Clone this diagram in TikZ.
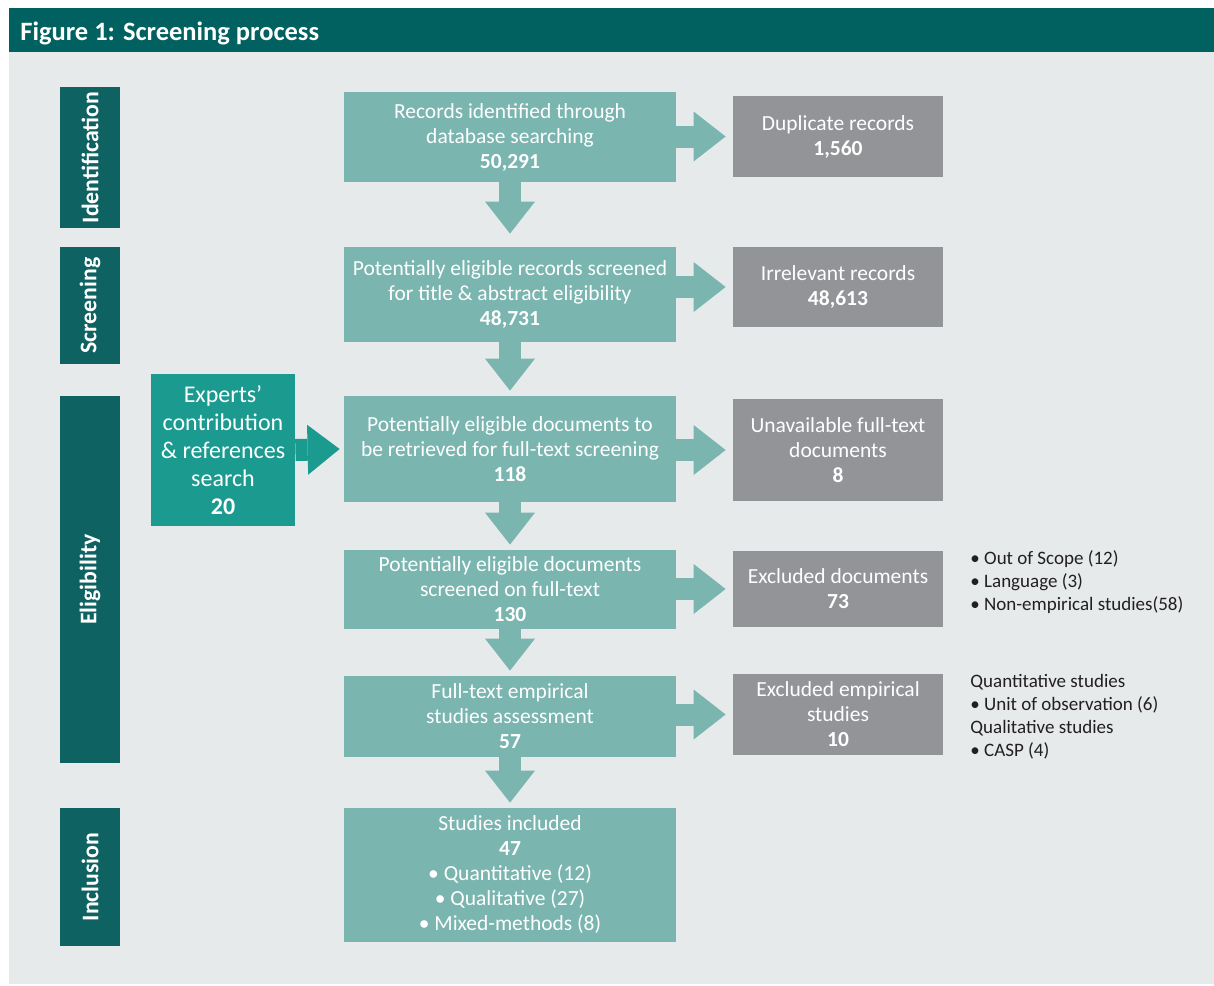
\documentclass[tikz,border=0pt]{standalone}
\usepackage{fontspec}
\setmainfont{Carlito}
\usetikzlibrary{arrows.meta}

\definecolor{barteal}{RGB}{0,97,96}
\definecolor{sideteal}{RGB}{14,98,98}
\definecolor{boxteal}{RGB}{122,181,176}
\definecolor{expteal}{RGB}{27,154,144}
\definecolor{boxgray}{RGB}{147,148,152}
\definecolor{panel}{RGB}{230,234,234}
\definecolor{notetext}{RGB}{35,31,32}

\begin{document}
\begin{tikzpicture}[x=0.5pt, y=-0.5pt,
    stage/.style={fill=boxteal, text=white, align=center, minimum width=166pt, inner sep=0pt, font=\fontsize{10.75}{12.5}\selectfont},
    outbox/.style={fill=boxgray, text=white, align=center, minimum width=105pt, inner sep=0pt, font=\fontsize{10.75}{12.5}\selectfont},
    phase/.style={fill=sideteal, text=white, rotate=90, minimum height=30pt, inner sep=0pt, font=\bfseries\fontsize{11.9}{13}\selectfont},
    note/.style={text=notetext, align=left, anchor=north west, inner sep=0pt, font=\fontsize{9.5}{11.5}\selectfont},
    flow/.style={draw=boxteal, line width=11pt, -{Triangle[width=25pt, length=16pt, line width=0pt]}}
]
    \useasboundingbox (0,0) rectangle (1214,985);
    \fill[white] (0,0) rectangle (1214,985);

    % Panel and title bar
    \fill[panel] (9,52) rectangle (1214,984);
    \fill[barteal] (9,8) rectangle (1214,52);
    \node[anchor=base west, text=white, inner sep=0pt, font=\bfseries\fontsize{13.25}{15}\selectfont] (title) at (20,40) {Figure 1: Screening process};

    % Phases on the left
    \node[phase, minimum width=70.5pt] (ident) at (90,157.5) {Identification};
    \node[phase, minimum width=58.5pt] (scrn) at (90,305.5) {Screening};
    \node[phase, minimum width=183.5pt] (elig) at (90,579.5) {Eligibility};
    \node[phase, minimum width=69pt] (incl) at (90,877) {Inclusion};

    % Main flow
    \node[stage, minimum height=45pt] (rec) at (510,137) {Records identified through\\database searching\\\textbf{50,291}};
    \node[stage, minimum height=47.5pt] (pot) at (510,294.5) {Potentially eligible records screened\\for title \& abstract eligibility\\\textbf{48,731}};
    \node[stage, minimum height=53pt] (ret) at (510,449) {Potentially eligible documents to\\be retrieved for full-text screening\\\textbf{118}};
    \node[stage, minimum height=39.5pt] (full) at (510,589.5) {Potentially eligible documents\\screened on full-text\\\textbf{130}};
    \node[stage, minimum height=40.5pt] (emp) at (510,716.5) {Full-text empirical\\studies assessment\\\textbf{57}};
    \node[stage, minimum height=67pt] (incd) at (510,875) {Studies included\\\textbf{47}\\• Quantitative (12)\\• Qualitative (27)\\• Mixed-methods (8)};

    % Removed records
    \node[outbox, minimum height=40.5pt] (dup) at (838,136.5) {Duplicate records\\\textbf{1,560}};
    \node[outbox, minimum height=40pt] (irr) at (838,287) {Irrelevant records\\\textbf{48,613}};
    \node[outbox, minimum height=51pt] (una) at (838,450) {Unavailable full-text\\documents\\\textbf{8}};
    \node[outbox, minimum height=38pt] (exc) at (838,589) {Excluded documents\\\textbf{73}};
    \node[outbox, minimum height=40.5pt] (exe) at (838,714.5) {Excluded empirical\\studies\\\textbf{10}};

    % Extra source
    \node[fill=expteal, text=white, align=center, minimum width=72pt, minimum height=76pt, inner sep=0pt, font=\fontsize{12}{14}\selectfont] (exp) at (223,450) {Experts’\\contribution\\\& references\\search\\\textbf{20}};

    % Reasons
    \node[note] (exclist) at (970,550) {• Out of Scope (12)\\• Language (3)\\• Non-empirical studies(58)};
    \node[note] (emplist) at (970,674) {Quantitative studies\\• Unit of observation (6)\\Qualitative studies\\• CASP (4)};

    % Arrows down
    \draw[flow] (rec.south) -- ([yshift=6.5pt]pot.north);
    \draw[flow] (pot.south) -- ([yshift=2.5pt]ret.north);
    \draw[flow] (ret.south) -- ([yshift=2.5pt]full.north);
    \draw[flow] (full.south) -- ([yshift=2.5pt]emp.north);
    \draw[flow] (emp.south) -- ([yshift=2.5pt]incd.north);

    % Arrows right
    \draw[flow] (rec.east |- dup.west) -- ([xshift=-3.5pt]dup.west);
    \draw[flow] (pot.east |- irr.west) -- ([xshift=-3.5pt]irr.west);
    \draw[flow] (ret.east |- una.west) -- ([xshift=-3.5pt]una.west);
    \draw[flow] (full.east |- exc.west) -- ([xshift=-3.5pt]exc.west);
    \draw[flow] (emp.east |- exe.west) -- ([xshift=-3.5pt]exe.west);
    \draw[flow, draw=expteal] (exp.east) -- ([xshift=-2pt]ret.west);
\end{tikzpicture}
\end{document}
